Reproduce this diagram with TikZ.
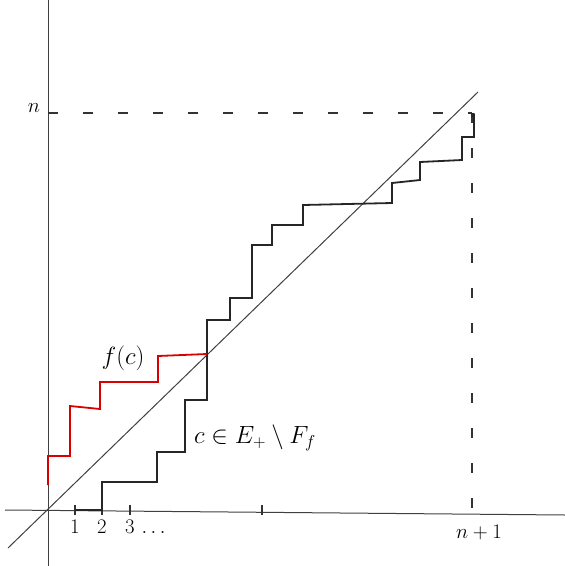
\documentclass[tikz,border=0pt]{standalone}
\usepackage{amsmath,amssymb}
\usepackage{xcolor}
\usepackage{tikz}
\usetikzlibrary{positioning}

\begin{document}
\begin{tikzpicture}[x=1pt, y=-1pt,
  axis/.style={draw=black!75, line width=1pt},
  guide/.style={draw=black!80, line width=1.5pt, dash pattern=on 10pt off 25pt},
  diag/.style={draw=black!75, line width=1pt},
  stairs/.style={draw=black!85, line width=1.8pt, line join=miter},
  fstairs/.style={draw=red!85!black, line width=1.8pt, line join=miter},
  tickmark/.style={draw=black!80, line width=1.2pt},
  lbl/.style={font=\fontsize{20}{24}\selectfont, inner sep=1pt},
  biglbl/.style={font=\fontsize{25}{30}\selectfont, inner sep=1pt}
]
  \useasboundingbox (0,0) rectangle (565,566);

  % Axes
  \coordinate (O) at (48,510);
  \coordinate (xend) at (565,515);
  \draw[axis] (5,510) -- (xend);
  \draw[axis] (48,0) -- (48,566);

  % Diagonal
  \coordinate (dlow) at (8,548);
  \coordinate (dhigh) at (478,92);
  \draw[diag] (dlow) -- (dhigh);

  % Guides to (n+1, n)
  \coordinate (ny) at (48,113);
  \coordinate (corner) at (472,113);
  \coordinate (nx) at (472,510);
  \draw[guide] (ny) -- (corner);
  \draw[guide] (corner) -- (nx);
  \fill[black!85] (473,115) circle (2.2pt);

  % Ticks
  \foreach \x/\name in {75/t1, 102/t2, 130/t3, 262/tmid} {
    \draw[tickmark] (\x,505) -- (\x,515);
    \coordinate (\name) at (\x,515);
  }

  % Tick labels
  \node[lbl, below=4pt of t1] (l1) {$1$};
  \node[lbl, below=4pt of t2] (l2) {$2$};
  \node[lbl, below=4pt of t3, anchor=north west, xshift=-6pt] (l3) {$3\,\dots$};
  \node[lbl] (lnp) at (479,532) {$n+1$};
  \node[lbl] (ln) at (34,108) {$n$};

  % Black staircase: c
  \draw[stairs] (75,510) -- (102,510) -- (102,482) -- (157,482) -- (157,452)
    -- (185,452) -- (185,400) -- (207,400) -- (207,320) -- (230,320)
    -- (230,298) -- (252,298) -- (252,245) -- (272,245) -- (272,225)
    -- (303,225) -- (303,205) -- (392,203) -- (392,183) -- (420,180)
    -- (420,162) -- (462,160) -- (462,137) -- (474,137) -- (474,115);

  % Red staircase: f(c)
  \draw[fstairs] (48,485) -- (48,456) -- (70,456) -- (70,406) -- (100,409)
    -- (100,382) -- (158,382) -- (158,356) -- (207,354);

  % Labels
  \node[biglbl] (fc) at (123,358) {$f(c)$};
  \node[biglbl] (cset) at (255,438) {$c \in E_+ \setminus F_f$};

\end{tikzpicture}
\end{document}
